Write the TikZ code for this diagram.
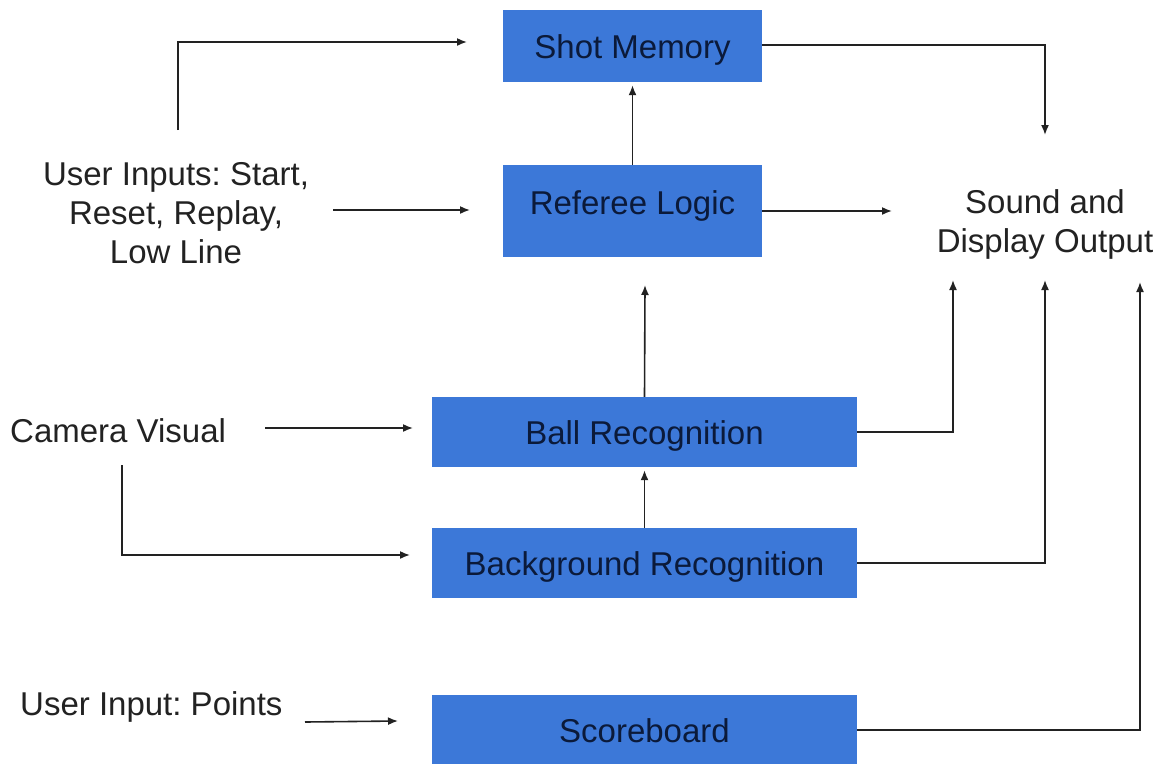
\documentclass[tikz,border=0pt]{standalone}
\usepackage{fontspec}
\setmainfont{Liberation Sans}
\frenchspacing
\usetikzlibrary{arrows.meta}
\definecolor{boxblue}{HTML}{3C78D8}
\definecolor{boxtext}{HTML}{0B1A3A}
\definecolor{ink}{HTML}{222222}
\tikzset{
  block/.style={fill=boxblue, draw=none, inner sep=0pt, text=boxtext,
    text height=24pt, text depth=0pt,
    font=\fontsize{33}{39}\selectfont},
  label/.style={inner sep=0pt, text=ink, align=center,
    font=\fontsize{33}{39}\selectfont},
  wire/.style={draw=ink, line width=1.6pt},
  arr/.style={wire, -{Latex[length=10pt,width=8pt]}}
}
\begin{document}
\begin{tikzpicture}[x=1pt,y=-1pt]
\useasboundingbox (0,0) rectangle (1164,763);
\clip (0,0) rectangle (1164,763);
\fill[white] (0,0) rectangle (1164,763);

% processing blocks
\node[block, minimum width=259pt, minimum height=72pt] (mem) at (632.5,46) {Shot Memory};
\node[block, minimum width=259pt, minimum height=92pt, text depth=18pt] (ref) at (632.5,211) {Referee Logic};
\node[block, minimum width=425pt, minimum height=70pt] (ball) at (644.5,432) {Ball Recognition};
\node[block, minimum width=425pt, minimum height=70pt] (bg) at (644.5,563) {Background Recognition};
\node[block, minimum width=425pt, minimum height=70pt] (score) at (644.5,730) {Scoreboard};

% inputs and output
\node[label] (ui) at (176,213) {User Inputs: Start,\\Reset, Replay,\\Low Line};
\node[label] (out) at (1045,224) {Sound and\\Display Output};
\node[label, anchor=west] (cam) at (10,431) {Camera Visual};
\node[label, anchor=west] (pts) at (20,707) {User Input: Points};

% free wire ends
\coordinate (uiTop) at (178,130);
\coordinate (memIn) at (467,42);
\coordinate (uiOut) at (333,210);
\coordinate (refIn) at (470,210);
\coordinate (outTop) at (1045,135);
\coordinate (outIn) at (892,211);
\coordinate (refBelow) at (645,285);
\coordinate (outA) at (953,280);
\coordinate (outB) at (1045,280);
\coordinate (outC) at (1140,282);
\coordinate (camOut) at (265,428);
\coordinate (ballIn) at (413,428);
\coordinate (camDown) at (122,465);
\coordinate (bgIn) at (410,555);
\coordinate (ptsOut) at (305,722);
\coordinate (scoreIn) at (398,721);

% connectors
\draw[arr] (uiTop) |- (memIn);
\draw[arr] (mem.east |- 0,45) -| (outTop);
\draw[arr, shorten >=3pt] (ref.north) -- (mem.south);
\draw[arr] (uiOut) -- (refIn);
\draw[arr] (ref.east) -- (outIn);
\draw[arr] (ball.north) -- (refBelow);
\draw[arr] (ball.east) -| (outA);
\draw[arr] (camOut) -- (ballIn);
\draw[arr] (camDown) |- (bgIn);
\draw[arr, shorten >=3pt] (bg.north) -- (ball.south);
\draw[arr] (bg.east) -| (outB);
\draw[arr] (score.east) -| (outC);
\draw[arr] (ptsOut) -- (scoreIn);
\end{tikzpicture}
\end{document}
